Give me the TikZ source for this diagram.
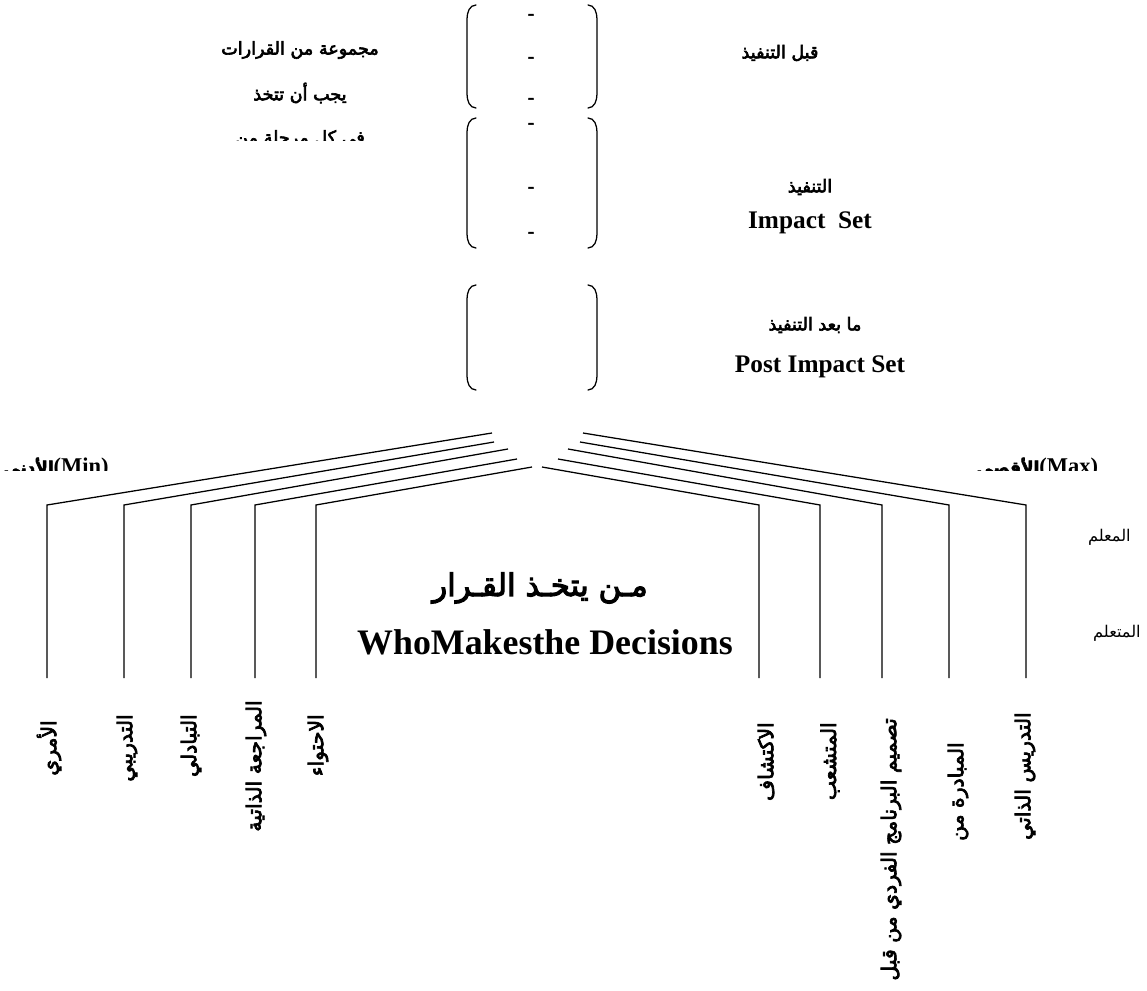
\documentclass[tikz,border=0pt]{standalone}
\usepackage{fontspec}
\setmainfont{Liberation Serif}
\newfontfamily\arabicfont[Script=Arabic]{DejaVu Sans}
\newfontfamily\arabicbf[Script=Arabic, FakeBold=3.5]{DejaVu Sans}
\TeXXeTstate=1
\usetikzlibrary{positioning}

\tikzset{
    arlabel/.style={inner sep=0pt, font=\arabicbf\fontsize{12.5}{14}\selectfont},
    enlabel/.style={inner sep=0pt, font=\bfseries\fontsize{18}{21}\selectfont},
    sidelabel/.style={inner sep=0pt, font=\arabicfont\fontsize{11.5}{13}\selectfont},
    vlabel/.style={inner sep=0pt, rotate=90, anchor=east, font=\arabicbf\fontsize{14.5}{16}\selectfont},
    dashmark/.style={inner sep=0pt, font=\arabicbf\fontsize{13}{15}\selectfont},
    bracket/.style={line width=0.9pt, line cap=round},
    fanline/.style={line width=0.9pt}
}

\begin{document}
\begin{tikzpicture}[x=0.025cm, y=-0.025cm]
\useasboundingbox (0,0) rectangle (1147,991);

% Brackets for the three phases
\foreach \top/\bot/\name in {5/108/pre, 118/248/imp, 285/390/post} {
  \draw[bracket] (476,\top) to[out=180,in=90] (467,\top+14) -- (467,\bot-14) to[out=-90,in=180] (476,\bot);
  \draw[bracket] (588,\top) to[out=0,in=90] (597,\top+14) -- (597,\bot-14) to[out=-90,in=0] (588,\bot);
}
\node[dashmark] (d1) at (531,17) {-};
\node[dashmark] (d2) at (531,60) {-};
\node[dashmark] (d3) at (531,101) {-};
\node[dashmark] (d4) at (531,126) {-};
\node[dashmark] (d5) at (531,190) {-};
\node[dashmark] (d6) at (531,235) {-};

% Left text block (cut off at the bottom)
\node[arlabel] (set) at (300,50) {\beginR مجموعة من القرارات\endR};
\node[arlabel] (must) at (300,93) {\beginR يجب أن تتخذ\endR};
\begin{scope}
  \clip (150,120) rectangle (450,141);
  \node[arlabel] (each) at (300,139) {\beginR في كل مرحلة من\endR};
\end{scope}

% Phase names
\node[arlabel] (pre) at (780,53) {\beginR قبل التنفيذ\endR};
\node[arlabel] (imp) at (810,187) {\beginR التنفيذ\endR};
\node[enlabel] (impset) at (810,223) {Impact~~Set};
\node[arlabel] (post) at (815,325) {\beginR ما بعد التنفيذ\endR};
\node[enlabel] (postset) at (820,367) {Post Impact Set};

% Min / Max ends of the scale
\begin{scope}
  \clip (0,440) rectangle (1147,471);
  \node[inner sep=0pt, anchor=west, font=\bfseries\fontsize{16}{19}\selectfont] (min) at (3,468)
    {{\arabicbf\fontsize{12}{13}\selectfont\beginR الأدنى\endR}(Min)};
  \node[inner sep=0pt, anchor=west, font=\bfseries\fontsize{16}{19}\selectfont] (max) at (976,468)
    {{\arabicbf\fontsize{12}{13}\selectfont\beginR الأقصى\endR}(Max)};
\end{scope}

% Fan of lines, left side
\foreach \i/\tx/\ty/\cx in {1/492/433/47, 2/494/442/124, 3/508/449/191, 4/517/459/255, 5/532/467/316} {
  \coordinate (lt\i) at (\tx,\ty);
  \coordinate (lc\i) at (\cx,505);
  \coordinate (lb\i) at (\cx,678);
  \draw[fanline] (lt\i) -- (lc\i) -- (lb\i);
}
% Fan of lines, right side
\foreach \i/\tx/\ty/\cx in {1/583/433/1026, 2/580/442/949, 3/568/449/882, 4/558/459/820, 5/542/467/759} {
  \coordinate (rt\i) at (\tx,\ty);
  \coordinate (rc\i) at (\cx,505);
  \coordinate (rb\i) at (\cx,678);
  \draw[fanline] (rt\i) -- (rc\i) -- (rb\i);
}

% Title in the middle
\node[inner sep=0pt, font=\arabicbf\fontsize{22}{26}\selectfont] (who) at (540,588) {\beginR مـن يتخـذ القـرار\endR};
\node[inner sep=0pt, font=\bfseries\fontsize{25.5}{30}\selectfont] (whoen) at (545,642) {WhoMakesthe Decisions};

% Teacher / learner
\node[sidelabel, anchor=east] (teacher) at (1131,537) {\beginR المعلم\endR};
\node[sidelabel, anchor=east] (learner) at (1141,633) {\beginR المتعلم\endR};

% Styles along the scale
\node[vlabel] (s1) at (49,720) {\beginR الأمري\endR};
\node[vlabel] (s2) at (127,714) {\beginR التدريبي\endR};
\node[vlabel] (s3) at (191,714) {\beginR التبادلي\endR};
\node[vlabel] (s4) at (256,700) {\beginR المراجعة الذاتية\endR};
\node[vlabel] (s5) at (318,714) {\beginR الاحتواء\endR};
\node[vlabel] (s6) at (766,722) {\beginR الاكتشاف\endR};
\node[vlabel] (s7) at (830,722) {\beginR المتشعب\endR};
\node[vlabel] (s8) at (891,718) {\beginR تصميم البرنامج الفردي من قبل\endR};
\node[vlabel] (s9) at (958,742) {\beginR المبادرة من\endR};
\node[vlabel] (s10) at (1025,712) {\beginR التدريس الذاتي\endR};
\end{tikzpicture}
\end{document}
